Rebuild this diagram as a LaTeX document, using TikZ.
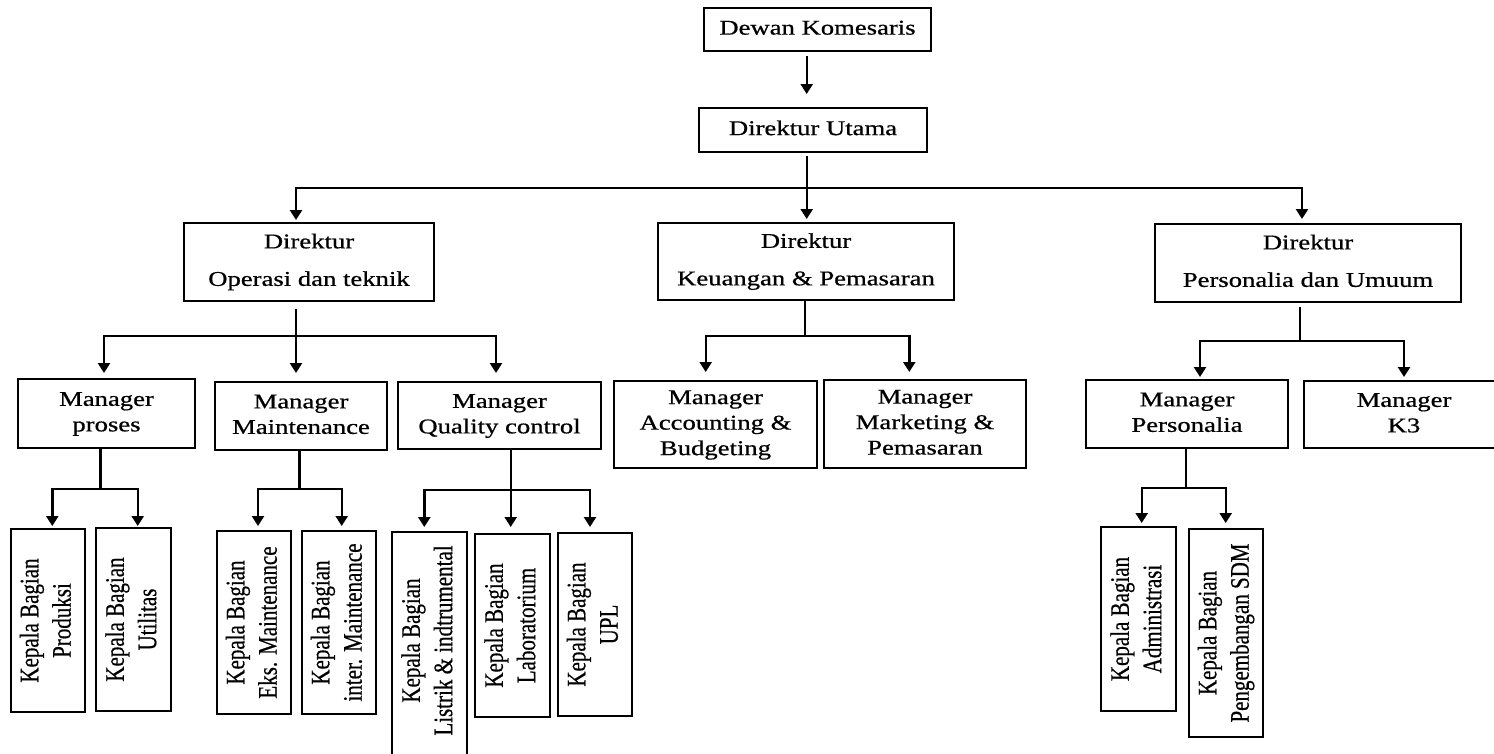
\documentclass[tikz,border=0pt]{standalone}
\usepackage{fontspec}
\setmainfont{Liberation Serif}[FakeBold=0.6]
\usepackage{graphicx}
\usetikzlibrary{arrows.meta}
\newcommand{\htx}[1]{\scalebox{1.27}[1]{\begin{tabular}{@{}c@{}}#1\end{tabular}}}
\newcommand{\vtx}[1]{\rotatebox{90}{\scalebox{1}[1.27]{\begin{tabular}{@{}c@{}}#1\end{tabular}}}}
\begin{document}
\begin{tikzpicture}[x=1pt,y=-1pt,
  every node/.style={font=\fontsize{21}{25.5}\selectfont},
  obox/.style={draw, line width=1.6pt, inner sep=0pt, outer sep=0pt},
  ln/.style={line width=2.4pt},
  arr/.style={line width=2.4pt, -{Triangle[width=12pt,length=10pt]}}]
\useasboundingbox (0,0) rectangle (1494,753);
\fill[white] (0,0) rectangle (1494,753);
\clip (0,0) rectangle (1494,753);

% top level
\node[obox, minimum width=227pt, minimum height=43pt] (dk) at (817.5,29.5) {\htx{Dewan Komesaris}};
\node[obox, minimum width=228pt, minimum height=44pt] (du) at (813,130) {\htx{Direktur Utama}};

% directors
\node[obox, minimum width=250pt, minimum height=78pt] (dop) at (309,262) {\htx{Direktur\\[12pt]Operasi dan teknik}};
\node[obox, minimum width=296pt, minimum height=77pt] (dke) at (806,261.5) {\htx{Direktur\\[12pt]Keuangan \& Pemasaran}};
\node[obox, minimum width=306pt, minimum height=78pt] (dpe) at (1308,263) {\htx{Direktur\\[12pt]Personalia dan Umuum}};

% managers
\node[obox, minimum width=177pt, minimum height=69pt] (mpr) at (106.5,413.5) {\htx{Manager\\proses}};
\node[obox, minimum width=172pt, minimum height=68pt] (mma) at (301,416) {\htx{Manager\\Maintenance}};
\node[obox, minimum width=203pt, minimum height=67pt] (mqc) at (499.5,415.5) {\htx{Manager\\Quality control}};
\node[obox, minimum width=203pt, minimum height=87pt] (mac) at (715.5,424.5) {\htx{Manager\\Accounting \&\\Budgeting}};
\node[obox, minimum width=202pt, minimum height=88pt] (mmk) at (925,424) {\htx{Manager\\Marketing \&\\Pemasaran}};
\node[obox, minimum width=202pt, minimum height=68pt] (mps) at (1187,414) {\htx{Manager\\Personalia}};
\node[obox, minimum width=200pt, minimum height=67pt] (mk3) at (1404,414.5) {\htx{Manager\\K3}};

% kepala bagian
\node[obox, minimum width=74pt, minimum height=183pt] (kpr) at (48,620.5) {\vtx{Kepala Bagian\\Produksi}};
\node[obox, minimum width=75pt, minimum height=183pt] (kut) at (133.5,619.5) {\vtx{Kepala Bagian\\Utilitas}};
\node[obox, minimum width=74pt, minimum height=183pt] (kek) at (254,622.5) {\vtx{Kepala Bagian\\Eks. Maintenance}};
\node[obox, minimum width=74pt, minimum height=183pt] (kin) at (339,622.5) {\vtx{Kepala Bagian\\inter. Maintenance}};
\node[obox, minimum width=75pt, minimum height=248pt] (kli) at (429.5,656) {};
\node[inner sep=0pt] (klit) at (429.5,640.5) {\vtx{Kepala Bagian\\Listrik \& indtrumental}};
\node[obox, minimum width=75pt, minimum height=183pt] (kla) at (512.5,625.5) {\vtx{Kepala Bagian\\Laboratorium}};
\node[obox, minimum width=74pt, minimum height=183pt] (kup) at (595,624.5) {\vtx{Kepala Bagian\\UPL}};
\node[obox, minimum width=75pt, minimum height=184pt] (kad) at (1138.5,619) {\vtx{Kepala Bagian\\Administrasi}};
\node[obox, minimum width=74pt, minimum height=208pt] (ksd) at (1226,633) {\vtx{Kepala Bagian\\Pengembangan SDM}};

% junction coordinates
\coordinate (t0) at (806.7,188);
\coordinate (tL) at (296,188);
\coordinate (tR) at (1302,188);
\coordinate (o0) at (296,336);
\coordinate (oL) at (104,336);
\coordinate (oR) at (496,336);
\coordinate (k0) at (804.7,336);
\coordinate (kL) at (705.7,336);
\coordinate (kR) at (909.3,336);
\coordinate (p0) at (1300,341);
\coordinate (pL) at (1200,341);
\coordinate (pR) at (1404,341);
\coordinate (a0) at (100.3,489);
\coordinate (aL) at (52.3,489);
\coordinate (aR) at (137.7,489);
\coordinate (b0) at (299.3,489);
\coordinate (bL) at (258,489);
\coordinate (bR) at (341.7,489);
\coordinate (c0) at (510.7,490);
\coordinate (cL) at (424.3,490);
\coordinate (cR) at (590,490);
\coordinate (d0) at (1186,487.7);
\coordinate (dL) at (1141.7,487.7);
\coordinate (dR) at (1225.7,487.7);

% Dewan -> Utama
\draw[arr] ([yshift=-5pt]dk.south -| t0) -- ([yshift=14pt]du.north -| t0);
% Utama -> directors
\draw[ln] ([yshift=-4pt]du.south -| t0) -- (t0);
\draw[arr] (t0) -| ([yshift=3pt]dop.north -| tL);
\draw[arr] (t0) -- ([yshift=4pt]dke.north -| t0);
\draw[arr] (t0) -| ([yshift=5pt]dpe.north -| tR);

% Operasi -> managers
\draw[ln] ([yshift=-8pt]dop.south -| o0) -- (o0);
\draw[arr] (o0) -| ([yshift=6pt]mpr.north -| oL);
\draw[arr] (o0) -- ([yshift=9pt]mma.north -| o0);
\draw[arr] (o0) -| ([yshift=9pt]mqc.north -| oR);

% Keuangan -> managers
\draw[ln] (dke.south -| k0) -- (k0);
\draw[arr] (k0) -| ([yshift=9pt]mac.north -| kL);
\draw[arr] (k0) -| ([yshift=8pt]mmk.north -| kR);

% Personalia -> managers
\draw[ln] ([yshift=-5pt]dpe.south -| p0) -- (p0);
\draw[arr] (p0) -| ([yshift=3pt]mps.north -| pL);
\draw[arr] (p0) -| ([yshift=4pt]mk3.north -| pR);

% Manager proses -> kepala
\draw[ln] (mpr.south -| a0) -- (a0);
\draw[arr] (a0) -| ([yshift=3pt]kpr.north -| aL);
\draw[arr] (a0) -| ([yshift=2pt]kut.north -| aR);

% Manager maintenance -> kepala
\draw[ln] (mma.south -| b0) -- (b0);
\draw[arr] (b0) -| ([yshift=5pt]kek.north -| bL);
\draw[arr] (b0) -| ([yshift=5pt]kin.north -| bR);

% Manager QC -> kepala
\draw[ln] (mqc.south -| c0) -- (c0);
\draw[arr] (c0) -| ([yshift=5pt]kli.north -| cL);
\draw[arr] (c0) -- ([yshift=7pt]kla.north -| c0);
\draw[arr] (c0) -| ([yshift=6pt]kup.north -| cR);

% Manager personalia -> kepala
\draw[ln] (mps.south -| d0) -- (d0);
\draw[arr] (d0) -| ([yshift=4pt]kad.north -| dL);
\draw[arr] (d0) -| ([yshift=6pt]ksd.north -| dR);
\end{tikzpicture}
\end{document}
